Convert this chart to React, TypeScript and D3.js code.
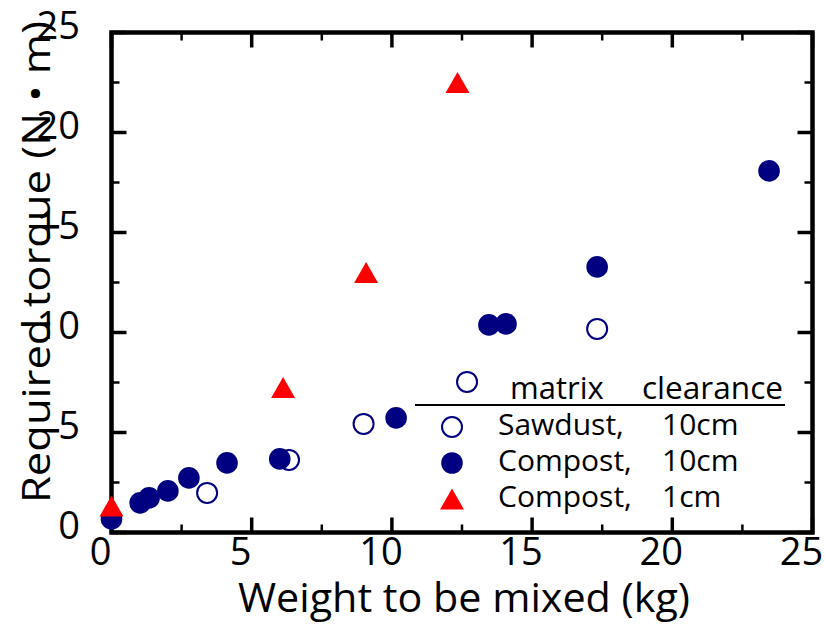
import React from "react";
import * as d3 from "d3";

// Required torque vs. weight to be mixed, by matrix and clearance
const sawdust10X = [3.41, 6.33, 8.99, 12.68, 17.32];
const sawdust10Y = [1.98, 3.63, 5.43, 7.53, 10.18];

const compost10X = [0.0, 1.02, 1.34, 2.01, 2.76, 4.12, 6.0, 10.15, 13.46, 14.07, 17.32, 23.45];
const compost10Y = [0.68, 1.48, 1.73, 2.08, 2.73, 3.48, 3.68, 5.73, 10.38, 10.43, 13.28, 18.08];

const compost1X = [0.0, 6.12, 9.08, 12.34];
const compost1Y = [1.33, 7.25, 13.0, 22.5];

const xTicks = [0, 5, 10, 15, 20, 25];
const yTicks = [0, 5, 10, 15, 20, 25];
const minorTicks = [2.5, 7.5, 12.5, 17.5, 22.5];

const legendHeader = ["matrix", "clearance"];
const legendRows = [
  { matrix: "Sawdust,", clearance: "10cm", kind: "open" },
  { matrix: "Compost,", clearance: "10cm", kind: "filled" },
  { matrix: "Compost,", clearance: "1cm", kind: "triangle" },
];

const W = 825;
const H = 631;
const left = 111.5;
const right = 812.5;
const top = 32.5;
const bottom = 532.5;
const NAVY = "#000080";
const RED = "#ff0000";
const FONT = "'Open Sans', sans-serif";

const x = d3.scaleLinear().domain([0, 25]).range([left, right]);
const y = d3.scaleLinear().domain([0, 25]).range([bottom, top]);

function triPath(cx: number, cy: number, hw = 12, hh = 10.5) {
  const p = d3.path();
  p.moveTo(cx, cy - hh);
  p.lineTo(cx + hw, cy + hh);
  p.lineTo(cx - hw, cy + hh);
  p.closePath();
  return p.toString();
}

function Marker({ kind, cx, cy }: { kind: string; cx: number; cy: number }) {
  if (kind === "open")
    return <circle cx={cx} cy={cy} r={10} fill="white" stroke={NAVY} strokeWidth={2} />;
  if (kind === "filled") return <circle cx={cx} cy={cy} r={10.8} fill={NAVY} />;
  return <path d={triPath(cx, cy)} fill={RED} />;
}

export default function App() {
  const majorLen = 15;
  const minorLen = 8;
  return (
    <svg
      width={W}
      height={H}
      viewBox={`0 0 ${W} ${H}`}
      style={{ position: "absolute", left: 0, top: 0, background: "white" }}
      fontFamily={FONT}
    >
      <rect x={0} y={0} width={W} height={H} fill="white" />

      {/* tick marks on all four sides, pointing inward */}
      <g stroke="black">
        {xTicks.map((t) => (
          <g key={"xt" + t} strokeWidth={3.5}>
            <line x1={x(t)} x2={x(t)} y1={bottom} y2={bottom - majorLen} />
            <line x1={x(t)} x2={x(t)} y1={top} y2={top + majorLen} />
          </g>
        ))}
        {minorTicks.map((t) => (
          <g key={"xm" + t} strokeWidth={2.5}>
            <line x1={x(t)} x2={x(t)} y1={bottom} y2={bottom - minorLen} />
            <line x1={x(t)} x2={x(t)} y1={top} y2={top + minorLen} />
          </g>
        ))}
        {yTicks.map((t) => (
          <g key={"yt" + t} strokeWidth={3.5}>
            <line x1={left} x2={left + majorLen} y1={y(t)} y2={y(t)} />
            <line x1={right} x2={right - majorLen} y1={y(t)} y2={y(t)} />
          </g>
        ))}
        {minorTicks.map((t) => (
          <g key={"ym" + t} strokeWidth={2.5}>
            <line x1={left} x2={left + minorLen} y1={y(t)} y2={y(t)} />
            <line x1={right} x2={right - minorLen} y1={y(t)} y2={y(t)} />
          </g>
        ))}
      </g>

      {/* frame */}
      <rect
        x={left}
        y={top}
        width={right - left}
        height={bottom - top}
        fill="none"
        stroke="black"
        strokeWidth={4.5}
      />

      {/* tick labels */}
      <g fontSize={38} fill="black">
        {xTicks.map((t) => (
          <text key={"xl" + t} x={x(t) - 11} y={565} textAnchor="middle">
            {t}
          </text>
        ))}
        {yTicks.map((t) => (
          <text key={"yl" + t} x={80} y={y(t) + 6} textAnchor="end">
            {t}
          </text>
        ))}
      </g>

      {/* axis titles */}
      <text
        x={464}
        y={612}
        textAnchor="middle"
        fontSize={40}
        fill="black"
        textLength={452}
        lengthAdjust="spacingAndGlyphs"
      >
        Weight to be mixed (kg)
      </text>
      <text
        transform={`translate(50,262) rotate(-90)`}
        textAnchor="middle"
        fontSize={39}
        fill="black"
        textLength={482}
        lengthAdjust="spacingAndGlyphs"
      >
        Required torque (N • m)
      </text>

      {/* data */}
      {sawdust10X.map((v, i) => (
        <Marker key={"s" + i} kind="open" cx={x(v)} cy={y(sawdust10Y[i])} />
      ))}
      {compost10X.map((v, i) => (
        <Marker key={"c" + i} kind="filled" cx={x(v)} cy={y(compost10Y[i])} />
      ))}
      {compost1X.map((v, i) => (
        <Marker key={"t" + i} kind="triangle" cx={x(v)} cy={y(compost1Y[i])} />
      ))}

      {/* legend */}
      <g fill="black">
        <text x={510} y={399} fontSize={31}>
          {legendHeader[0]}
        </text>
        <text x={642} y={399} fontSize={31} textLength={141} lengthAdjust="spacingAndGlyphs">
          {legendHeader[1]}
        </text>
        <line x1={415} x2={785} y1={405} y2={405} stroke="black" strokeWidth={2} />
        {legendRows.map((r, i) => {
          const base = 435 + i * 36;
          return (
            <g key={"lg" + i}>
              <Marker kind={r.kind} cx={452} cy={base - 8} />
              <text x={498} y={base} fontSize={30}>
                {r.matrix}
              </text>
              <text x={662} y={base} fontSize={30}>
                {r.clearance}
              </text>
            </g>
          );
        })}
      </g>
    </svg>
  );
}
